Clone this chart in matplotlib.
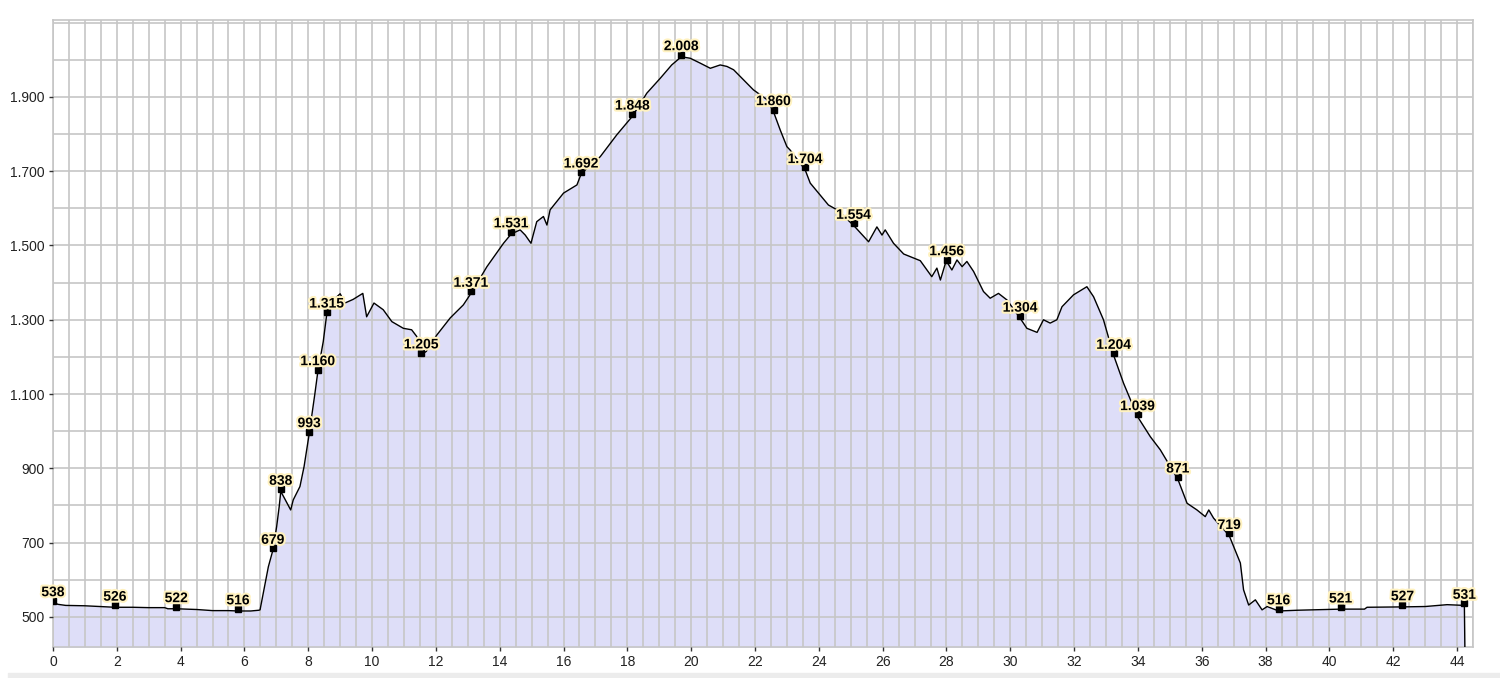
import matplotlib
matplotlib.use("Agg")
import matplotlib.pyplot as plt
import matplotlib.patheffects as pe
from matplotlib.patches import Rectangle
from matplotlib.ticker import FuncFormatter, MultipleLocator

# elevation profile: distance (km) and elevation (m)
dist_km = [0.00, 0.15, 0.40, 1.00, 1.50, 1.94, 2.50, 3.00, 3.50, 3.60, 3.86, 4.50, 5.00, 5.50, 5.80, 6.20, 6.45,
           6.49, 6.59, 6.75, 6.89, 7.01, 7.09, 7.14, 7.30, 7.45, 7.53, 7.74, 7.87, 8.03, 8.21, 8.30, 8.47, 8.58,
           8.68, 9.00, 9.15, 9.41, 9.71, 9.83, 10.06, 10.35, 10.62, 10.98, 11.24, 11.40, 11.54, 11.70, 12.03,
           12.45, 12.86, 13.10, 13.60, 14.12, 14.36, 14.64, 14.80, 14.98, 15.16, 15.37, 15.48, 15.58, 16.00,
           16.42, 16.55, 16.70, 17.15, 17.67, 18.16, 18.61, 19.03, 19.39, 19.69, 19.97, 20.28, 20.60, 20.91,
           21.12, 21.33, 21.64, 21.95, 22.37, 22.58, 22.79, 23.00, 23.10, 23.57, 23.73, 24.04, 24.30, 24.57,
           25.09, 25.56, 25.82, 25.98, 26.08, 26.34, 26.66, 27.18, 27.54, 27.70, 27.81, 27.96, 28.01, 28.17,
           28.33, 28.49, 28.64, 28.85, 29.16, 29.37, 29.63, 29.90, 30.31, 30.52, 30.84, 31.04, 31.25, 31.46,
           31.62, 31.98, 32.40, 32.61, 32.92, 33.24, 33.55, 33.99, 34.39, 34.70, 35.25, 35.54, 35.85, 36.11,
           36.22, 36.37, 36.86, 37.21, 37.31, 37.47, 37.68, 37.89, 38.05, 38.41, 39.00, 40.35, 41.10, 41.18,
           42.29, 43.00, 43.69, 44.23, 44.25]
elev_m = [541, 534, 531, 530, 528, 526, 526, 525, 525, 522, 522, 520, 517, 517, 516, 516, 518,
          519, 564, 635, 679, 743, 797, 838, 812, 788, 815, 851, 905, 993, 1102, 1160, 1241, 1315,
          1345, 1370, 1345, 1355, 1371, 1308, 1345, 1327, 1295, 1277, 1273, 1255, 1205, 1215, 1259,
          1305, 1340, 1371, 1443, 1506, 1531, 1542, 1528, 1506, 1564, 1578, 1555, 1596, 1641,
          1663, 1692, 1705, 1739, 1798, 1848, 1910, 1950, 1986, 2008, 2004, 1991, 1977, 1986,
          1982, 1973, 1946, 1919, 1893, 1860, 1811, 1766, 1757, 1704, 1668, 1636, 1609, 1596,
          1554, 1510, 1550, 1528, 1542, 1506, 1477, 1459, 1416, 1439, 1407, 1450, 1456, 1434,
          1461, 1443, 1457, 1430, 1376, 1358, 1371, 1353, 1304, 1277, 1266, 1300, 1291, 1300,
          1335, 1367, 1389, 1362, 1300, 1204, 1129, 1039, 985, 950, 871, 806, 788, 770,
          788, 766, 719, 645, 573, 532, 546, 519, 528, 516, 518, 521, 521, 526,
          527, 528, 533, 531, 380]

# labelled waypoints
mark_km = [0.00, 1.94, 3.86, 5.80, 6.89, 7.14, 8.03, 8.30, 8.58, 11.54, 13.10, 14.36, 16.55, 18.16,
           19.69, 22.58, 23.57, 25.09, 28.01, 30.31, 33.24, 33.99, 35.25, 36.86, 38.41, 40.35, 42.29, 44.23]
mark_elev = [538, 526, 522, 516, 679, 838, 993, 1160, 1315, 1205, 1371, 1531, 1692, 1848,
             2008, 1860, 1704, 1554, 1456, 1304, 1204, 1039, 871, 719, 516, 521, 527, 531]

y_min, y_max = 419, 2107


def thousands(v, pos=None):
    return f"{int(v):,}".replace(",", ".")


fig = plt.figure(figsize=(15, 6.78), dpi=100)
fig.patches.append(Rectangle((0.005, 0), 0.995, 0.008, transform=fig.transFigure,
                             color='#ececec', zorder=-1))
ax = fig.add_axes([0.0353, 0.0457, 0.9467, 0.9248])

ax.fill_between(dist_km, elev_m, y_min - 50, color='#dedef8', zorder=1, linewidth=0)
ax.plot(dist_km, elev_m, color='black', linewidth=1.0, zorder=3)
ax.plot(mark_km, [e + 6 for e in mark_elev], linestyle='none', marker='s', markersize=4.5,
        color='black', zorder=4)

halo = [pe.withStroke(linewidth=3, foreground='#fff2c0')]
for k, e in zip(mark_km, mark_elev):
    ax.annotate(thousands(e), (k, e + 6), xytext=(0, 1), textcoords='offset points',
                ha='center', va='bottom', fontsize=10, fontweight='bold', color='black',
                family='Liberation Sans', path_effects=halo, zorder=5)

ax.set_xlim(0, 44.5)
ax.set_ylim(y_min, y_max)
ax.set_xticks(range(0, 45, 2))
ax.set_yticks(range(500, 2000, 200))
ax.xaxis.set_minor_locator(MultipleLocator(0.5))
ax.yaxis.set_minor_locator(MultipleLocator(100))
ax.yaxis.set_major_formatter(FuncFormatter(thousands))

ax.set_axisbelow(False)
ax.grid(True, which='both', color='#c6c6c6', linewidth=1.2)
for s in ax.spines.values():
    s.set_color('#c6c6c6')
    s.set_linewidth(1.2)

ax.tick_params(which='minor', length=0)
ax.tick_params(which='major', length=3, width=1, color='#333333', labelsize=10,
               labelcolor='#222222', pad=3)
for lbl in ax.get_xticklabels() + ax.get_yticklabels():
    lbl.set_family('Liberation Sans')

fig.savefig('out.png', dpi=100)
